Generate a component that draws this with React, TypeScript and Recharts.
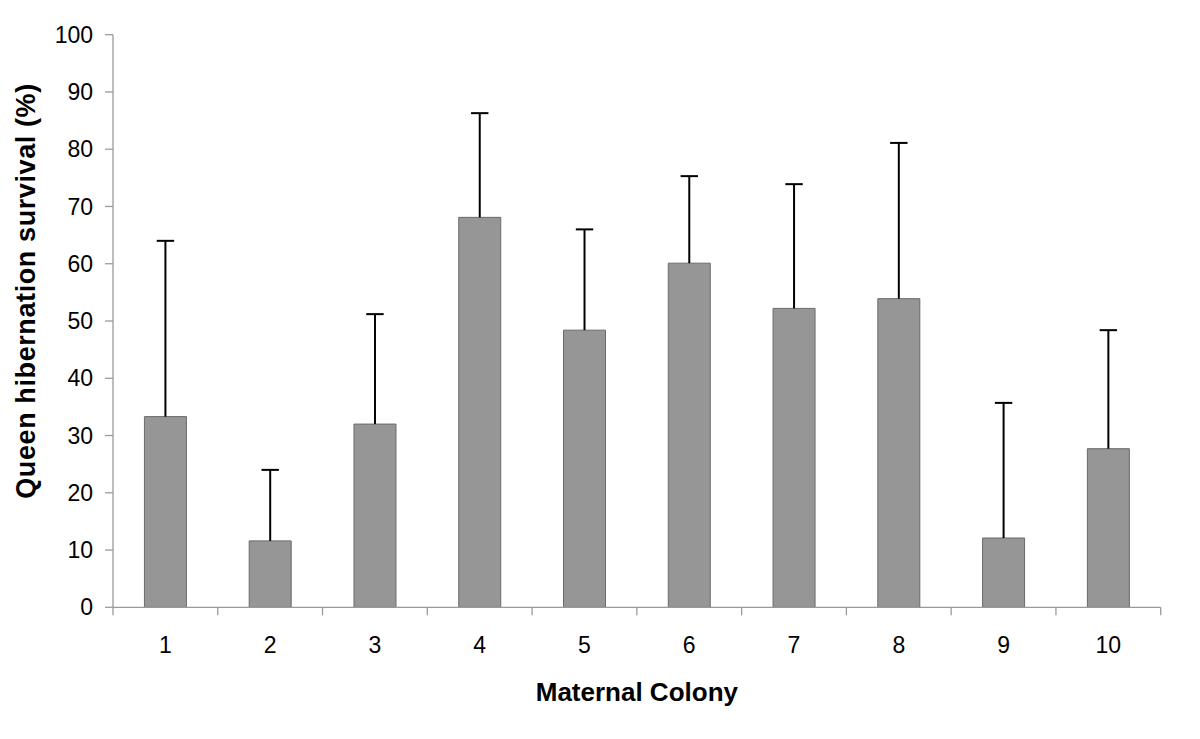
import React from 'react';
import { ComposedChart, Bar, XAxis, YAxis, Label } from 'recharts';

const colonies = ['1', '2', '3', '4', '5', '6', '7', '8', '9', '10'];
const survival = [33.3, 11.6, 32.0, 68.1, 48.4, 60.1, 52.2, 53.9, 12.1, 27.7];
const upperError = [64.0, 24.0, 51.2, 86.3, 66.0, 75.3, 73.9, 81.1, 35.7, 48.4];
const yTicks = [0, 10, 20, 30, 40, 50, 60, 70, 80, 90, 100];
const boundaryTicks = [0, 1, 2, 3, 4, 5, 6, 7, 8, 9, 10];

const data = colonies.map((c, i) => ({
  colony: c,
  pos: i + 0.5,
  mean: survival[i],
  span: upperError[i] - survival[i],
}));

const FONT = '"Liberation Sans", Arial, sans-serif';

const ErrorShape = (props: any) => {
  const { x, y, width, height } = props;
  const cx = x + width / 2;
  return (
    <g>
      <line x1={cx} x2={cx} y1={y} y2={y + height} stroke="#000" strokeWidth={2} />
      <line x1={cx - 8.7} x2={cx + 8.7} y1={y} y2={y} stroke="#000" strokeWidth={2} />
    </g>
  );
};

const EmptyTick = () => <g />;

const XLabel = (props: any) => {
  const vb = props.viewBox;
  return (
    <text
      x={vb.x + vb.width / 2}
      y={vb.y + 92.7}
      textAnchor="middle"
      fontFamily={FONT}
      fontWeight="bold"
      fontSize={26}
      fill="#000"
    >
      Maternal Colony
    </text>
  );
};

const YLabel = (props: any) => {
  const vb = props.viewBox;
  const cx = vb.x - 27.5;
  const cy = vb.y + vb.height / 2 - 30;
  return (
    <text
      x={cx}
      y={cy}
      transform={`rotate(-90, ${cx}, ${cy})`}
      textAnchor="middle"
      dominantBaseline="central"
      fontFamily={FONT}
      fontWeight="bold"
      fontSize={27}
      letterSpacing={0.6}
      fill="#000"
    >
      Queen hibernation survival (%)
    </text>
  );
};

export default function App() {
  return (
    <div style={{ width: 1184, height: 723, fontFamily: FONT, background: '#fff' }}>
      <ComposedChart
        width={1184}
        height={723}
        data={data}
        margin={{ top: 26.7, right: 31.3, bottom: 22.7, left: 45 }}
        barCategoryGap="30%"
      >
        <XAxis
          xAxisId="bound"
          type="number"
          dataKey="pos"
          domain={[0, 10]}
          ticks={boundaryTicks}
          interval={0}
          allowDataOverflow
          height={1}
          tick={EmptyTick}
          tickSize={8}
          tickLine={{ stroke: '#9a9a9a', strokeWidth: 1.3 }}
          axisLine={{ stroke: '#9a9a9a', strokeWidth: 1.3 }}
        />
        <XAxis
          xAxisId="cat"
          dataKey="colony"
          height={100}
          tickLine={false}
          axisLine={false}
          tickSize={8}
          tickMargin={20}
          tick={{ fontSize: 23, fill: '#000', fontFamily: FONT }}
          interval={0}
        >
          <Label content={<XLabel />} />
        </XAxis>
        <YAxis
          domain={[0, 100]}
          ticks={yTicks}
          width={60}
          interval={0}
          tickSize={8}
          tickMargin={12}
          tick={{ fontSize: 23, fill: '#000', fontFamily: FONT }}
          tickLine={{ stroke: '#9a9a9a', strokeWidth: 1.3 }}
          axisLine={{ stroke: '#9a9a9a', strokeWidth: 1.3 }}
        >
          <Label content={<YLabel />} />
        </YAxis>
        <Bar
          xAxisId="cat"
          dataKey="mean"
          stackId="s"
          fill="#969696"
          stroke="#6a6a6a"
          strokeWidth={1}
          isAnimationActive={false}
        />
        <Bar
          xAxisId="cat"
          dataKey="span"
          stackId="s"
          shape={ErrorShape}
          isAnimationActive={false}
        />
      </ComposedChart>
    </div>
  );
}
